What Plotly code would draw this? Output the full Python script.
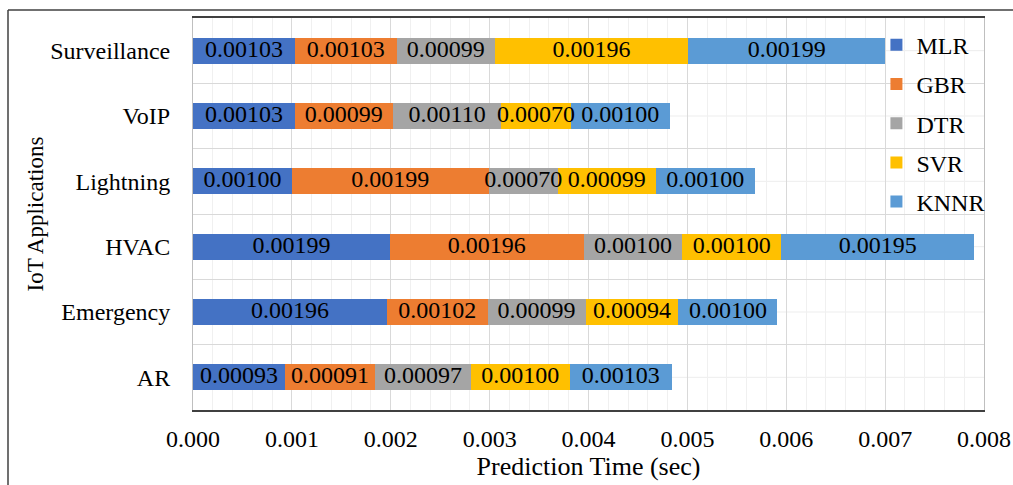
import plotly.graph_objects as go

categories = ["AR", "Emergency", "HVAC", "Lightning", "VoIP", "Surveillance"]
series_names = ["MLR", "GBR", "DTR", "SVR", "KNNR"]
mlr = [0.00093, 0.00196, 0.00199, 0.00100, 0.00103, 0.00103]
gbr = [0.00091, 0.00102, 0.00196, 0.00199, 0.00099, 0.00103]
dtr = [0.00097, 0.00099, 0.00100, 0.00070, 0.00110, 0.00099]
svr = [0.00100, 0.00094, 0.00100, 0.00099, 0.00070, 0.00196]
knnr = [0.00103, 0.00100, 0.00195, 0.00100, 0.00100, 0.00199]
x_ticks = [0.000, 0.001, 0.002, 0.003, 0.004, 0.005, 0.006, 0.007, 0.008]

colors = ["#4472C4", "#ED7D31", "#A5A5A5", "#FFC000", "#5B9BD5"]
FONT = "Liberation Serif, Times New Roman, serif"

fig = go.Figure()
all_series = [mlr, gbr, dtr, svr, knnr]
for name, vals, col in zip(series_names, all_series, colors):
    fig.add_trace(go.Bar(
        y=categories, x=vals, name=name, orientation="h",
        marker=dict(color=col, line=dict(width=0)),
        legendgroup=name, hoverinfo="x+name",
    ))

# value labels drawn on top of all bars (centred in each segment)
lab_x, lab_y, lab_t = [], [], []
cum = [0.0] * len(categories)
for vals in all_series:
    for i, v in enumerate(vals):
        lab_x.append(cum[i] + v / 2)
        lab_y.append(categories[i])
        lab_t.append(f"{v:.5f}")
        cum[i] += v
fig.add_trace(go.Scatter(
    x=lab_x, y=lab_y, text=lab_t, mode="text", textposition="middle center",
    textfont=dict(family=FONT, size=24, color="black"),
    showlegend=False, hoverinfo="skip", cliponaxis=False,
))

shapes = []
for i in range(len(categories)):
    shapes.append(dict(type="line", xref="paper", yref="y", x0=0, x1=1, y0=i, y1=i,
                       line=dict(color="#ededed", width=1), layer="below"))
W, H = 1013, 485
L, R, T, B = 193, 29, 18, 75
pw, ph = W - L - R, H - T - B
def px(x):
    return (x - L) / pw
def py(y):
    return (H - B - y) / ph
shapes.append(dict(type="line", xref="paper", yref="paper", x0=px(8), x1=px(8), y0=py(490), y1=py(10),
                   line=dict(color="#404040", width=1.5)))
shapes.append(dict(type="line", xref="paper", yref="paper", x0=px(8), x1=px(1020), y0=py(10), y1=py(10),
                   line=dict(color="#404040", width=1.5)))

fig.update_layout(
    width=W, height=H,
    margin=dict(l=L, r=R, t=T, b=B, autoexpand=False),
    barmode="stack", bargap=0.6,
    paper_bgcolor="white", plot_bgcolor="white",
    font=dict(family=FONT, size=24, color="black"),
    shapes=shapes,
    legend=dict(x=0.864, xanchor="left", y=0.988, yanchor="top",
                bgcolor="rgba(0,0,0,0)", font=dict(family=FONT, size=24),
                traceorder="grouped", tracegroupgap=5, itemwidth=30),
    showlegend=True,
)
fig.update_xaxes(
    range=[0, 0.008], tickvals=x_ticks, ticktext=[f"{t:.3f}" for t in x_ticks],
    showgrid=True, gridcolor="#d9d9d9", gridwidth=1,
    minor=dict(dtick=0.0002, showgrid=True, gridcolor="#f0f0f0", gridwidth=1),
    showline=True, linecolor="#404040", linewidth=1.5, mirror=True,
    ticks="", ticklabelstandoff=6, zeroline=False, automargin=False,
    title=dict(text="Prediction Time (sec)", font=dict(family=FONT, size=26), standoff=6),
    tickfont=dict(family=FONT, size=24),
)
fig.update_yaxes(
    type="category", categoryorder="array", categoryarray=categories,
    tickson="boundaries", showgrid=True, gridcolor="#d9d9d9", gridwidth=1,
    showline=True, linecolor="#bfbfbf", linewidth=1, mirror=True,
    ticks="", ticklabelstandoff=17, automargin=False,
    title=dict(text="IoT Applications", font=dict(family=FONT, size=23), standoff=0),
    tickfont=dict(family=FONT, size=24),
)

fig.write_html("out.html", config={"displayModeBar": False},
               post_script="document.body.style.margin='0';document.body.style.overflow='hidden';")
